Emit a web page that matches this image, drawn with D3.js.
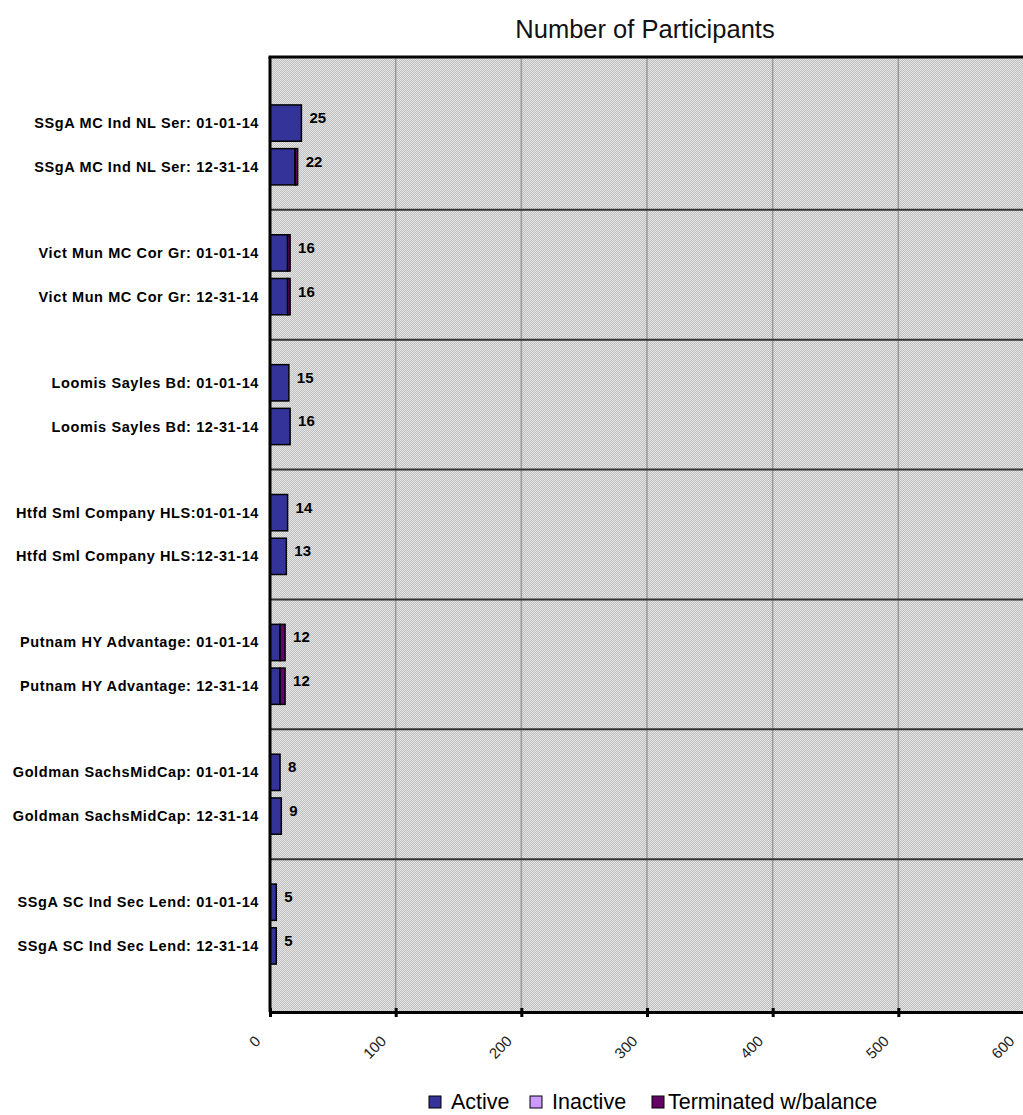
<!DOCTYPE html>
<html>
<head>
<meta charset="utf-8">
<script src="https://cdn.jsdelivr.net/npm/d3@7"></script>
<style>
  body { margin: 0; background: #fff; }
  svg { display: block; font-family: Arial, "Liberation Sans", sans-serif; }
</style>
</head>
<body>
<svg id="barChart" width="1023" height="1115"></svg>
<script>
// data
const funds = [
  "SSgA MC Ind NL Ser",
  "Vict Mun MC Cor Gr",
  "Loomis Sayles Bd",
  "Htfd Sml Company HLS",
  "Putnam HY Advantage",
  "Goldman SachsMidCap",
  "SSgA SC Ind Sec Lend"
];
const dates = ["01-01-14", "12-31-14"];
const seriesNames = ["Active", "Inactive", "Terminated w/balance"];
const seriesColors = ["#333399", "#cc99ff", "#660066"];
// one value per fund/date pair, in fund order
const active     = [25, 20, 14, 14, 15, 16, 14, 13, 8, 8, 8, 9, 5, 5];
const inactive   = [0, 0, 0, 0, 0, 0, 0, 0, 0, 0, 0, 0, 0, 0];
const terminated = [0, 2, 2, 2, 0, 0, 0, 0, 4, 4, 0, 0, 0, 0];
const xTicks = [0, 100, 200, 300, 400, 500, 600];

const svg = d3.select("#barChart");
const width = +svg.attr("width");
const height = +svg.attr("height");
const margin = { top: 57, right: -1, bottom: 103, left: 270 };
const innerBottom = height - margin.bottom;

const rows = [];
funds.forEach((f, i) => {
  dates.forEach((d, j) => {
    const k = i * 2 + j;
    rows.push({
      fund: f, date: d,
      label: f === "Htfd Sml Company HLS" ? `${f}:${d}` : `${f}: ${d}`,
      values: [active[k], inactive[k], terminated[k]]
    });
  });
});

// hatch-like background
const defs = svg.append("defs");
const pat = defs.append("pattern")
  .attr("id", "bgPat")
  .attr("width", 2).attr("height", 2)
  .attr("patternUnits", "userSpaceOnUse");
pat.append("rect").attr("width", 2).attr("height", 2).attr("fill", "#bebebe");
pat.append("rect").attr("width", 1).attr("height", 1).attr("fill", "#e6e6e6");
pat.append("rect").attr("x", 1).attr("y", 1).attr("width", 1).attr("height", 1).attr("fill", "#e6e6e6");

const x = d3.scaleLinear()
  .domain([0, 600])
  .range([margin.left, width - margin.right]);

const yGroup = d3.scaleBand()
  .domain(funds)
  .range([80, 989])
  .padding(0);

const yBar = d3.scaleBand()
  .domain(dates)
  .range([yGroup.bandwidth() / 2 - 40, yGroup.bandwidth() / 2 + 40])
  .paddingInner(0.17)
  .paddingOuter(0);

svg.append("rect")
  .attr("x", margin.left)
  .attr("y", margin.top)
  .attr("width", width - margin.left + 5)
  .attr("height", innerBottom - margin.top)
  .attr("fill", "url(#bgPat)");

// vertical grid
svg.append("g")
  .selectAll("line")
  .data(xTicks.slice(1))
  .enter()
  .append("line")
  .attr("x1", d => x(d)).attr("x2", d => x(d))
  .attr("y1", margin.top).attr("y2", innerBottom)
  .attr("stroke", "#9a9a9a")
  .attr("stroke-width", 1.5);

// group separators
svg.append("g")
  .selectAll("line")
  .data(funds.slice(1))
  .enter()
  .append("line")
  .attr("x1", margin.left).attr("x2", width)
  .attr("y1", d => yGroup(d)).attr("y2", d => yGroup(d))
  .attr("stroke", "#333")
  .attr("stroke-width", 2);

// stacked bars
const barG = svg.append("g")
  .selectAll("g")
  .data(rows)
  .enter()
  .append("g")
  .attr("transform", d => `translate(0,${yGroup(d.fund) + yBar(d.date)})`);

barG.each(function (d) {
  let acc = 0;
  const g = d3.select(this);
  d.values.forEach((v, s) => {
    if (v > 0) {
      g.append("rect")
        .attr("x", x(acc))
        .attr("y", 0)
        .attr("width", x(acc + v) - x(acc))
        .attr("height", yBar.bandwidth())
        .attr("fill", seriesColors[s])
        .attr("stroke", "#000")
        .attr("stroke-width", 1.5);
    }
    acc += v;
  });
  g.append("text")
    .attr("x", x(acc) + 8)
    .attr("y", yBar.bandwidth() / 2)
    .style("font-size", "15px")
    .style("font-weight", "bold")
    .attr("fill", "#000")
    .text(acc);
});

// category labels
svg.append("g")
  .selectAll("text")
  .data(rows)
  .enter()
  .append("text")
  .attr("x", 259)
  .attr("y", d => yGroup(d.fund) + yBar(d.date) + yBar.bandwidth() / 2 + 5)
  .attr("text-anchor", "end")
  .style("font-size", "14.5px")
  .style("font-weight", "bold")
  .style("letter-spacing", "0.6px")
  .attr("fill", "#000")
  .text(d => d.label);

// frame lines
svg.append("line")
  .attr("x1", margin.left - 1.5).attr("x2", width)
  .attr("y1", margin.top).attr("y2", margin.top)
  .attr("stroke", "#000").attr("stroke-width", 3);

svg.append("line")
  .attr("x1", margin.left).attr("x2", margin.left)
  .attr("y1", margin.top).attr("y2", innerBottom)
  .attr("stroke", "#000").attr("stroke-width", 3);

// bottom axis
const xAxis = svg.append("g")
  .attr("transform", `translate(0,${innerBottom})`)
  .call(d3.axisBottom(x).tickValues(xTicks).tickSize(5).tickSizeOuter(0));

xAxis.select(".domain").attr("stroke", "#000").attr("stroke-width", 3);
xAxis.selectAll(".tick line")
  .attr("y1", -4).attr("y2", 5)
  .attr("stroke", "#000").attr("stroke-width", 3);
xAxis.selectAll("text")
  .attr("x", 0).attr("y", 0).attr("dy", 0)
  .attr("transform", "translate(-9,30) rotate(-45)")
  .style("text-anchor", "end")
  .style("font-family", "Arial, 'Liberation Sans', sans-serif")
  .style("font-size", "15px")
  .attr("fill", "#222");

// title
svg.append("text")
  .attr("x", 645)
  .attr("y", 38)
  .attr("text-anchor", "middle")
  .style("font-size", "25.5px")
  .attr("fill", "#111")
  .text("Number of Participants");

// legend
const legendX = [429, 530, 652];
const legendTextDx = [22, 22, 16];
const legend = svg.append("g")
  .selectAll("g")
  .data(seriesNames)
  .enter()
  .append("g")
  .attr("transform", (d, i) => `translate(${legendX[i]},1096)`);

legend.append("rect")
  .attr("width", 12).attr("height", 12)
  .attr("fill", (d, i) => seriesColors[i])
  .attr("stroke", "#000").attr("stroke-width", 1);

legend.append("text")
  .attr("x", (d, i) => legendTextDx[i])
  .attr("y", 12.5)
  .style("font-size", "21.5px")
  .attr("fill", "#000")
  .text(d => d);
</script>
</body>
</html>
